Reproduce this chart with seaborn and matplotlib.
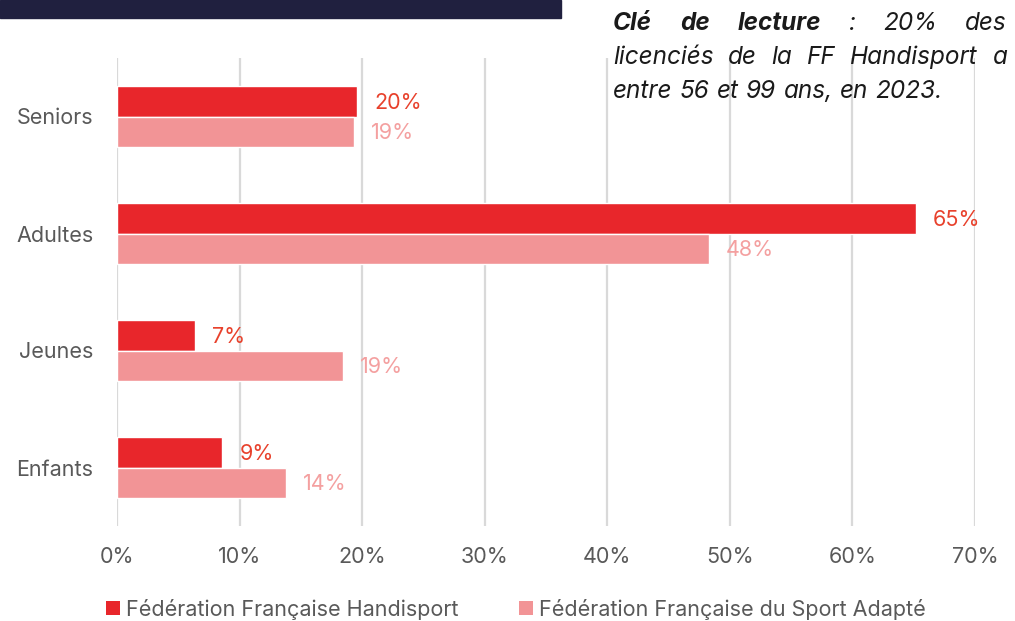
import numpy as np
import pandas as pd
import seaborn as sns
import matplotlib.pyplot as plt
from matplotlib.patches import Rectangle, Patch

# data
categories = ['Seniors', 'Adultes', 'Jeunes', 'Enfants']
series_names = ['Fédération Française Handisport', 'Fédération Française du Sport Adapté']
handisport = [19.6, 65.2, 6.4, 8.6]
sport_adapte = [19.3, 48.3, 18.4, 13.8]
handisport_labels = ['20%', '65%', '7%', '9%']
sport_adapte_labels = ['19%', '48%', '19%', '14%']
xticks = [0, 10, 20, 30, 40, 50, 60, 70]

RED = '#e8262b'
PINK = '#f29496'
RED_TXT = '#e8412c'
PINK_TXT = '#f4a0a0'
GREY = '#595959'

sns.set_theme(style='white')
plt.rcParams['font.family'] = ['Inter', 'DejaVu Sans']

df = pd.DataFrame({
    'cat': categories * 2,
    'val': handisport + sport_adapte,
    'serie': [series_names[0]] * 4 + [series_names[1]] * 4,
})

W, H = 1015, 621
fig = plt.figure(figsize=(W / 100, H / 100), dpi=100)
ax = fig.add_axes([117 / W, 1 - 526 / H, (975 - 117) / W, (526 - 58) / H])

sns.barplot(data=df, y='cat', x='val', hue='serie', orient='h', ax=ax,
            palette=[RED, PINK], width=0.52, gap=0, saturation=1,
            order=categories, hue_order=series_names, legend=False, zorder=3)

ax.set_xlim(0, 70)
ax.set_ylim(3.5, -0.5)
ax.set_xticks(xticks)
ax.set_xticklabels([f'{t}%' for t in xticks])
ax.set_xlabel('')
ax.set_ylabel('')
ax.grid(axis='x', color='#d9d9d9', linewidth=1.6, zorder=0)
ax.grid(axis='y', visible=False)
for s in ax.spines.values():
    s.set_visible(False)
ax.tick_params(axis='x', length=0, pad=15, labelsize=15.5, labelcolor=GREY)
ax.tick_params(axis='y', length=0, pad=17, labelsize=15.5, labelcolor=GREY)

# value labels at bar ends
off = 17 * 70 / (975 - 117)
for i in range(len(categories)):
    ax.text(handisport[i] + off, i - 0.115, handisport_labels[i], color=RED_TXT,
            fontsize=15.5, va='center', ha='left')
    ax.text(sport_adapte[i] + off, i + 0.145, sport_adapte_labels[i], color=PINK_TXT,
            fontsize=15.5, va='center', ha='left')

# dark banner top-left
fig.patches.append(Rectangle((0, 1 - 18 / H), 561 / W, 18 / H, transform=fig.transFigure,
                             color='#20203f', zorder=0))

# justified reading key, top right
renderer = fig.canvas.get_renderer()
KEY_SIZE = 17.5


def place_line(words, weights, y_px, x0, x1, justify=True):
    texts = []
    for w, wt in zip(words, weights):
        t = fig.text(0, 1 - y_px / H, w, fontsize=KEY_SIZE, style='italic', fontweight=wt,
                     color='#1a1a1a', va='baseline', ha='left')
        texts.append(t)
    widths = [t.get_window_extent(renderer).width for t in texts]
    if justify:
        gap = ((x1 - x0) - sum(widths)) / (len(words) - 1)
    else:
        gap = renderer.points_to_pixels(KEY_SIZE) * 0.3
    x = x0
    for t, wd in zip(texts, widths):
        t.set_x(x / W)
        x += wd + gap


place_line(['Clé', 'de', 'lecture', ':', '20%', 'des'],
           ['bold', 'bold', 'bold', 'normal', 'normal', 'normal'], 30, 613, 1007)
place_line(['licenciés', 'de', 'la', 'FF', 'Handisport', 'a'],
           ['normal'] * 6, 64, 613, 1007)
place_line(['entre', '56', 'et', '99', 'ans,', 'en', '2023.'],
           ['normal'] * 7, 98, 613, 1007, justify=False)

handles = [Patch(facecolor=RED, edgecolor='none'), Patch(facecolor=PINK, edgecolor='none')]
fig.legend(handles, series_names, loc='center', bbox_to_anchor=(516 / W, 1 - 609 / H),
           ncol=2, frameon=False, fontsize=15.5, labelcolor=GREY,
           handlelength=0.65, handleheight=0.65, handletextpad=0.3, columnspacing=2.8,
           borderpad=0, borderaxespad=0)

fig.savefig('out.png', dpi=100)
